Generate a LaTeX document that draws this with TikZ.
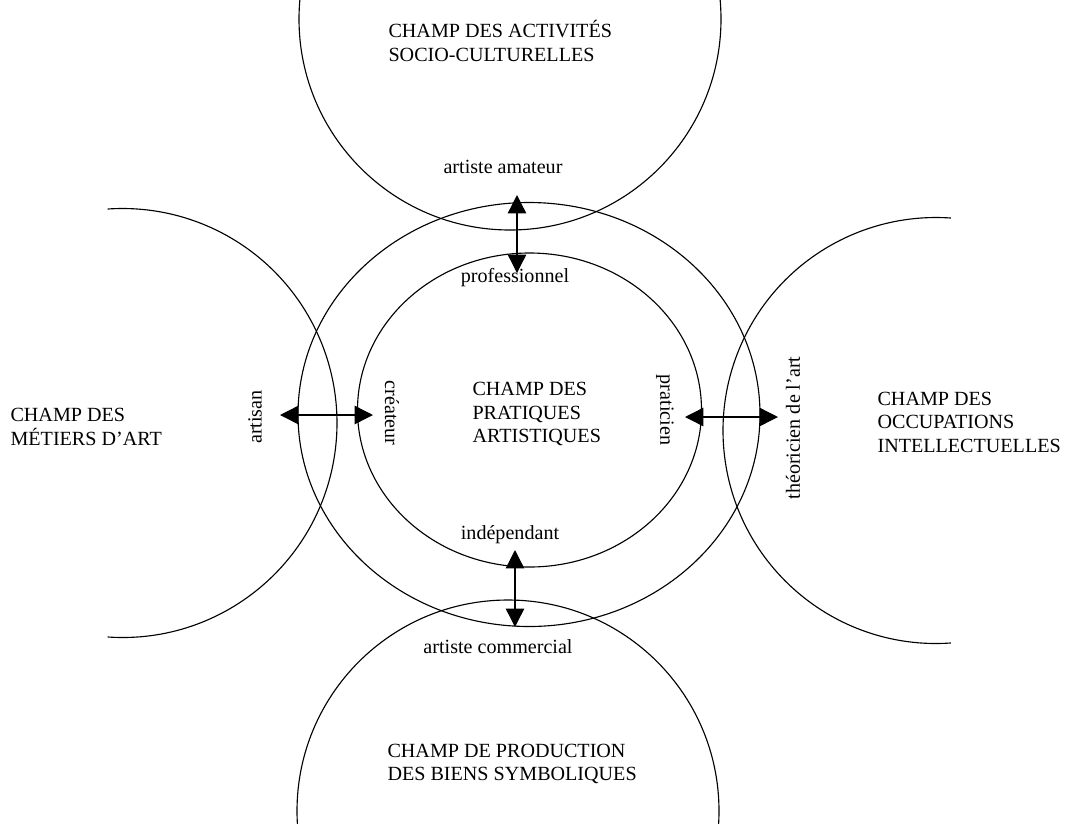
\documentclass[tikz,border=0pt]{standalone}
\usepackage{fontspec}
\setmainfont{Liberation Serif}
\usetikzlibrary{arrows.meta}

\begin{document}
\begin{tikzpicture}[x=0.025cm, y=-0.025cm, line width=0.8pt,
                    every node/.style={inner sep=0pt,
                                       font=\fontsize{14.3}{16.7}\selectfont},
                    field/.style={align=left, anchor=west},
                    link/.style={{Triangle[length=13pt,width=13pt]}-{Triangle[length=13pt,width=13pt]},
                                 line width=1pt}]
    \useasboundingbox (0,0) rectangle (1073,823);
    \clip (0,0) rectangle (1073,823);
    \draw (510,19) circle (211);
    \draw (508,811) circle (211);
    \draw (122.5,423) ++(94:214.5) arc[start angle=94, end angle=-94, radius=214.5];
    \draw (936,430.5) ++(86:213) arc[start angle=86, end angle=274, radius=213];
    \draw (529,414.5) ellipse [x radius=231, y radius=212];
    \draw (529.5,410) ellipse [x radius=172, y radius=157];
    \node[field] (socio)    at (388,41)  {CHAMP DES ACTIVITÉS\\SOCIO-CULTURELLES};
    \node[field] (symb)     at (387,764) {CHAMP DE PRODUCTION\\DES BIENS SYMBOLIQUES};
    \node[field] (metiers)  at (10,427)  {CHAMP DES\\MÉTIERS D’ART};
    \node[field] (intel)    at (877,422) {CHAMP DES\\OCCUPATIONS\\INTELLECTUELLES};
    \node[field] (prat)     at (472,414) {CHAMP DES\\PRATIQUES\\ARTISTIQUES};
    \node (amateur)    at (503,167) {artiste amateur};
    \node (profession) at (515,278) {professionnel};
    \node (indep)      at (510,535) {indépendant};
    \node (commercial) at (498,647) {artiste commercial};
    \node[rotate=90]  (artisan)    at (255,417) {artisan};
    \node[rotate=-90] (createur)   at (392,413) {créateur};
    \node[rotate=-90] (praticien)  at (665,410) {praticien};
    \node[rotate=90]  (theoricien) at (793,428) {théoricien de l’art};
    \coordinate (hautA) at (517,195);
    \coordinate (hautB) at (517,273);
    \coordinate (basA)  at (515,550);
    \coordinate (basB)  at (515,627);
    \coordinate (gaucheA) at (280,415);
    \coordinate (gaucheB) at (373,415);
    \coordinate (droiteA) at (685,417);
    \coordinate (droiteB) at (778,417);
    \draw[link] (hautA) -- (hautB);
    \draw[link] (basA) -- (basB);
    \draw[link] (gaucheA) -- (gaucheB);
    \draw[link] (droiteA) -- (droiteB);
\end{tikzpicture}
\end{document}
